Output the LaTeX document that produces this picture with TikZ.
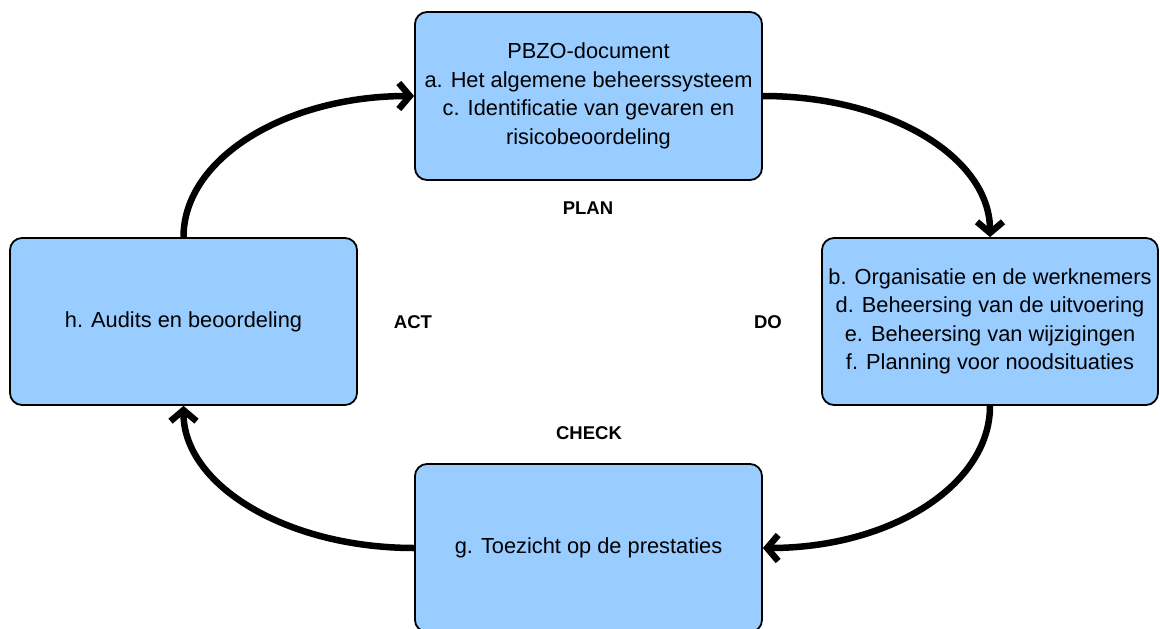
\documentclass[tikz,border=0pt]{standalone}
\usepackage{fontspec}
\setmainfont{Liberation Sans}
\usetikzlibrary{arrows.meta}
\definecolor{boxblue}{HTML}{99CCFF}
\begin{document}
\begin{tikzpicture}[x=1pt,y=-1pt,
  box/.style={draw=black, line width=1.8pt, fill=boxblue, rounded corners=12pt,
    minimum width=347pt, minimum height=168pt, align=center,
    font=\fontsize{21.8}{28.5}\selectfont, inner sep=0pt},
  phase/.style={font=\fontsize{18.5}{22}\selectfont\bfseries, inner sep=0pt},
  flow/.style={line width=6.5pt, -{Straight Barb[length=11pt,width=26pt]}}]
\useasboundingbox (0,0) rectangle (1160,629);
\node[box] (plan) at (588.5,96) {PBZO-document\\a. Het algemene beheerssysteem\\c. Identificatie van gevaren en\\risicobeoordeling};
\node[box, minimum width=336pt, minimum height=167pt] (do) at (990,321.5) {b. Organisatie en de werknemers\\d. Beheersing van de uitvoering\\e. Beheersing van wijzigingen\\f. Planning voor noodsituaties};
\node[box, minimum height=167pt] (act) at (183.5,321.5) {h. Audits en beoordeling};
\node[box] (check) at (588.5,548) {g. Toezicht op de prestaties};
\node[phase] (lplan) at (588,208) {PLAN};
\node[phase] (lact) at (413,322) {ACT};
\node[phase] (ldo) at (768,322) {DO};
\node[phase] (lcheck) at (589,433) {CHECK};
\draw[flow] (act.north) .. controls +(0,-79) and +(-128,0) .. (plan.west);
\draw[flow] (plan.east) .. controls +(128,0) and +(0,-79) .. (do.north);
\draw[flow] (do.south) .. controls +(0,79) and +(128,0) .. (check.east);
\draw[flow] (check.west) .. controls +(-128,0) and +(0,79) .. (act.south);
\end{tikzpicture}
\end{document}
